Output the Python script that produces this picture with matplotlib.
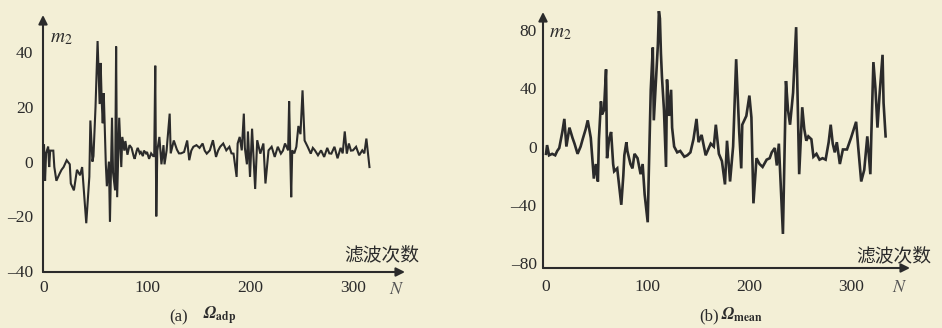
import matplotlib
matplotlib.use('Agg')
import matplotlib.pyplot as plt

plt.rcParams['mathtext.fontset'] = 'stix'
plt.rcParams['font.family'] = ['Liberation Serif', 'Noto Sans CJK SC', 'DejaVu Sans']

# ---------------- data ----------------
# panel (a): Omega_adp
n_a = [0, 1, 2, 4, 5, 6, 9, 10, 12, 15, 17, 19, 22, 25, 26, 29, 32, 35, 37, 41,
       44, 45, 47, 48, 50, 52, 54, 55, 56, 57, 58, 60, 61, 63, 64, 66, 67, 69, 70, 71,
       73, 75, 76, 78, 79, 81, 83, 85, 87, 88, 90, 91, 93, 94, 96, 97, 99, 100, 102, 104,
       106, 107, 108, 109, 110, 112, 114, 116, 117, 119, 122, 123, 126, 129, 131, 133, 136, 139, 141, 143,
       145, 148, 151, 154, 156, 158, 161, 164, 167, 169, 171, 174, 177, 180, 182, 184, 187, 188, 190, 192,
       194, 195, 197, 198, 200, 202, 205, 207, 210, 213, 215, 218, 221, 224, 227, 230, 232, 234, 237, 238,
       240, 241, 243, 245, 247, 249, 251, 253, 256, 259, 261, 263, 266, 269, 272, 275, 277, 279, 282, 285,
       288, 290, 292, 294, 296, 298, 300, 303, 306, 309, 311, 313, 316]
m_a = [6, -7, 3, 5.5, -2, 4, 4, -2, -7, -4.5, -3, -2, 0.5, -1, -8, -10.5, -3, -5, -2, -22.5,
       -5.5, 15, 0, 2, 20, 44, 21, 36, 22, 14, 25, -1, -9, 0, -22, 16, -4, -10.5, 42, -13,
       16, -2, 9, 4, 7.5, 2.5, 6, 5, 2, 1, 4, 5, 3, 3.5, 2, 4, 3, 3.5, 1, 3,
       2, 2, 35, -20, 4, 9, -1, 6, -1, 4, 17.5, 3, 7.7, 4.4, 3, 3, 3.5, 7.7, 0.5, 4,
       5.4, 6, 5, 6.6, 4, 2.9, 4.1, 7.8, 1.7, 4, 5.4, 6.6, 4.1, 5.4, 3, 2.9, -5.6, 6.6, 9, 4.1,
       17.5, 5, -1, 11, -5.6, 12, -10, 7.8, 2.9, 6.6, -8, 4.1, 5.4, 1.7, 5.4, 2.9, 4, 6.6, 4.1, 22,
       -13, 4.1, 3, 5.4, 13, 10, 26, 7.7, 5.4, 2.9, 5, 4.1, 2.3, 4.1, 1.7, 5, 3, 2.9, 5.4, 1.2,
       5, 3, 11, 2.9, 6.6, 4, 4.1, 5.4, 2.3, 4.1, 3, 8.4, -2]

# panel (b): Omega_mean
n_b = [0, 1, 3, 6, 9, 11, 13, 16, 18, 20, 23, 26, 28, 31, 34, 36, 39, 41, 44, 47,
       49, 51, 52, 54, 55, 57, 59, 60, 62, 64, 66, 67, 70, 74, 76, 77, 79, 80, 83, 85,
       87, 90, 93, 95, 97, 100, 101, 103, 105, 106, 108, 110, 111, 112, 113, 114, 116, 118, 119, 121,
       123, 124, 126, 129, 132, 136, 139, 142, 145, 148, 150, 153, 157, 162, 165, 167, 170, 173, 176, 178,
       181, 184, 187, 190, 192, 193, 197, 200, 202, 204, 207, 210, 213, 217, 220, 222, 225, 227, 229, 233,
       236, 238, 240, 243, 246, 249, 252, 254, 256, 258, 261, 263, 266, 269, 272, 275, 278, 280, 282, 284,
       286, 289, 292, 296, 300, 305, 307, 310, 313, 316, 319, 320, 322, 324, 326, 328, 331, 332, 334]
m_b = [-5, 1, -6, -5, -6, -3, -1, 10, 19, 0, 13, 6, 2, -5, 0, 5, 12, 18, 6, -22,
       -12, -24, 5, 31, 22, 25, 53, -8, 5, 10, -12, -17, -15, -40, -20, -6, 3, -3, -12, -15,
       -5, -8, -19, -12, -33, -52, -20, 39, 68, 18, 44, 70, 93, 88, 64, 48, 25, -14, 46, 21,
       39, 13, 0, -4, -3, -7, -6, -4, 5, 19, 3, 8, -6, 2, 0, 15, -5, -10, -26, 4,
       -24, 0, 60, 10, -15, 15, 21, 35, 20, -39, -8, -12, -14, -9, -8, -4, -1, -13, 2, -60,
       45, 25, 15, 37, 82, -19, 27, 12, 4, 7, 5, -7, -5, -9, -8, -9, 3, 15, 2, -4,
       3, -12, -2, -2, 6, 17, 0, -24, -16, 7, -19, 9, 58, 40, 13, 35, 63, 30, 7]

yt_a = [40, 20, 0, -20, -40]
yl_a = ['40', '20', '0', '\u201320', '\u201340']
yt_b = [80, 40, 0, -40, -80]
yl_b = ['80', '40', '0', '\u201340', '\u201380']
xt = [0, 100, 200, 300]
xl = ['0', '100', '200', '300']

BG = '#f3efd6'
INK = '#2b2b2b'
W, H = 942, 328

fig = plt.figure(figsize=(W / 100, H / 100), dpi=100, facecolor=BG)


def px(x, y):
    return x / W, 1 - y / H


def panel(rect, n, m, xlim, ylim, yt, yl, ypad, xpad, lw):
    ax = fig.add_axes(rect)
    ax.set_facecolor('none')
    ax.plot(n, m, color=INK, lw=lw, solid_joinstyle='miter', clip_on=False)
    ax.set_xlim(*xlim)
    ax.set_ylim(*ylim)
    for s in ax.spines.values():
        s.set_visible(False)
    ax.set_yticks(yt)
    ax.set_yticklabels(yl)
    ax.set_xticks(xt)
    ax.set_xticklabels(xl)
    ax.tick_params(axis='y', length=0, pad=ypad, labelsize=12.5, colors=INK)
    ax.tick_params(axis='x', length=0, pad=xpad, labelsize=12.5, colors=INK)
    arrow = dict(arrowstyle='-|>', color=INK, lw=1.5, mutation_scale=13,
                 shrinkA=0, shrinkB=0)
    ax.annotate('', xy=(0, 1.0), xytext=(0, 0), xycoords='axes fraction',
                arrowprops=arrow)
    ax.annotate('', xy=(1.0, 0), xytext=(0, 0), xycoords='axes fraction',
                arrowprops=arrow)
    return ax


panel([43 / W, (H - 272) / H, (405 - 43) / W, (272 - 15) / H], n_a, m_a,
      (-1, 350.5), (-40.3, 53.5), yt_a, yl_a, 7, 6, 1.5)
panel([543 / W, (H - 268) / H, (910 - 543) / W, (268 - 12) / H], n_b, m_b,
      (-3, 358), (-83.4, 92.4), yt_b, yl_b, 4.5, 8, 1.9)

# axis labels
fig.text(*px(50, 38), '$m_2$', fontsize=14, color=INK, va='center', ha='left')
fig.text(*px(549, 33), '$m_2$', fontsize=14, color=INK, va='center', ha='left')
fig.text(*px(382, 255), '滤波次数', fontsize=13.5, color=INK, va='center', ha='center',
         family=['Noto Sans CJK SC', 'DejaVu Sans'])
fig.text(*px(894, 256), '滤波次数', fontsize=13.5, color=INK, va='center', ha='center',
         family=['Noto Sans CJK SC', 'DejaVu Sans'])
fig.text(*px(397, 290), '$N$', fontsize=13, color='#555555', va='center', ha='center')
fig.text(*px(900, 287), '$N$', fontsize=13, color='#555555', va='center', ha='center')

# captions
fig.text(*px(169, 317), '(a)', fontsize=12, color=INK, va='center', ha='left')
fig.text(*px(202, 316), r'$\mathbfit{\Omega}_{\mathbf{adp}}$', fontsize=12, color=INK,
         va='center', ha='left')
fig.text(*px(699, 316), '(b)', fontsize=12, color=INK, va='center', ha='left')
fig.text(*px(720, 315), r'$\mathbfit{\Omega}_{\mathbf{mean}}$', fontsize=12, color=INK,
         va='center', ha='left')

fig.savefig('out.png', dpi=100, facecolor=BG)
